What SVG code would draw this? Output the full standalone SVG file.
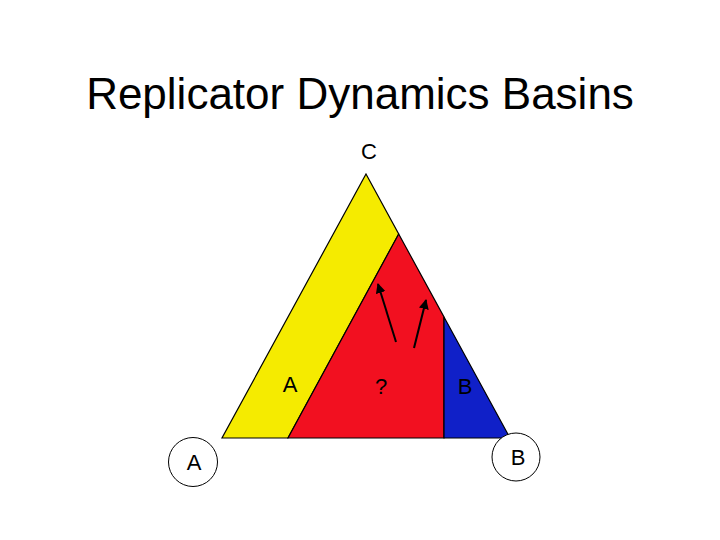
<svg xmlns="http://www.w3.org/2000/svg" width="720" height="540" viewBox="0 0 720 540">
<defs>
<style>
.t{font-family:"Liberation Sans",Arial,sans-serif;fill:#000}
.lbl{font-size:22px;text-anchor:middle}
.reg{stroke:#000;stroke-width:1.2;stroke-linejoin:miter}
.circ{fill:#fff;stroke:#000;stroke-width:1}
.arr{stroke:#000;stroke-width:2;fill:none;marker-end:url(#ah)}
</style>
<marker id="ah" viewBox="0 0 10 10" refX="9" refY="5" markerWidth="5" markerHeight="5" orient="auto" markerUnits="strokeWidth">
<path d="M0,0 L10,5 L0,10 z" fill="#000"/>
</marker>
</defs>
<rect width="720" height="540" fill="#fff"/>
<text class="t" x="360" y="109" font-size="44" text-anchor="middle">Replicator Dynamics Basins</text>
<g id="regionYellow"><polygon class="reg" points="366,174 398.7,234 288,438 222,438" fill="#F5EB00"/></g>
<g id="regionRed"><polygon class="reg" points="398.7,234 444,317 444,438 288,438" fill="#F21020"/></g>
<g id="regionBlue"><polygon class="reg" points="444,317 510,438 444,438" fill="#1020C8"/></g>
<g id="labelC"><text class="t lbl" x="369" y="159">C</text></g>
<g id="labelA"><text class="t lbl" x="290" y="392">A</text></g>
<g id="labelQ"><text class="t lbl" x="381" y="394" fill="#400">?</text></g>
<g id="labelB"><text class="t lbl" x="465" y="394">B</text></g>
<g id="vertexA"><circle class="circ" cx="193" cy="462" r="24.5"/><text class="t lbl" x="194" y="470">A</text></g>
<g id="vertexB"><circle class="circ" cx="516" cy="457" r="24"/><text class="t lbl" x="518" y="465">B</text></g>
<g id="connectors">
<line class="arr" x1="396" y1="342" x2="378" y2="284"/>
<line class="arr" x1="414" y1="348" x2="426" y2="300"/>
</g>
</svg>
